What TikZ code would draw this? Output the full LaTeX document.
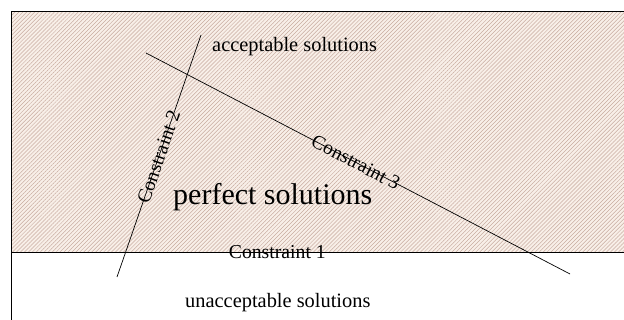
\documentclass[tikz,border=0pt]{standalone}
\usepackage{fontspec}
\setmainfont{Liberation Serif}
\usetikzlibrary{patterns.meta}
\definecolor{hatchbg}{RGB}{248,239,232}
\definecolor{hatchfg}{RGB}{200,172,160}
\begin{document}
\begin{tikzpicture}[x=1pt,y=-1pt,
  thinline/.style={line width=0.7pt,black},
  frameline/.style={line width=1pt,black},
  lbl/.style={inner sep=0pt,font=\fontsize{20.4}{24}\selectfont},
  clbl/.style={inner sep=0pt,font=\fontsize{19.7}{24}\selectfont},
  big/.style={inner sep=0pt,font=\fontsize{30}{36}\selectfont}]
\useasboundingbox (0,0) rectangle (624,320);
% hatched region
\fill[hatchbg] (11.5,12) rectangle (624,252);
\fill[pattern={Lines[angle=45,distance=2.8pt,line width=0.5pt]},pattern color=hatchfg] (11.5,12) rectangle (624,252);
% frame
\coordinate (fbl) at (11.5,320);
\coordinate (ftl) at (11.5,12);
\coordinate (ftr) at (624,12);
\draw[frameline] (fbl) -- (ftl) -- (ftr);
% constraint 1
\coordinate (c1a) at (11.5,252);
\coordinate (c1b) at (624,252);
\draw[thinline] (c1a) -- node[clbl,pos=0.434] (l1) {Constraint 1} (c1b);
% constraint 2
\coordinate (c2a) at (117,277);
\coordinate (c2b) at (201,35);
\draw[thinline] (c2a) -- node[clbl,sloped,pos=0.496] (l2) {Constraint 2} (c2b);
% constraint 3
\coordinate (c3a) at (146,53);
\coordinate (c3b) at (570,274);
\draw[thinline] (c3a) -- node[clbl,sloped,pos=0.495] (l3) {Constraint 3} (c3b);
% texts
\node[lbl,anchor=base west] (acc) at (212,52) {acceptable solutions};
\node[big,anchor=base west] (perf) at (173,205) {perfect solutions};
\node[lbl,anchor=base west] (unacc) at (185,308) {unacceptable solutions};
\end{tikzpicture}
\end{document}
